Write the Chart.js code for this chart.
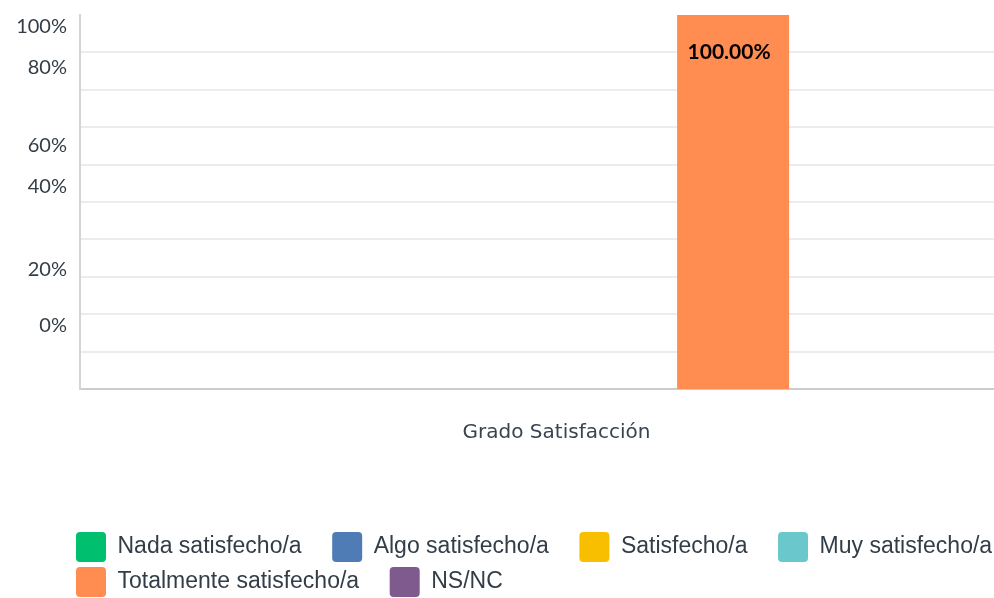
<!DOCTYPE html>
<html>
<head>
<meta charset="utf-8">
<title>Grado Satisfacción</title>
<script src="https://cdn.jsdelivr.net/npm/chart.js@4.4.1/dist/chart.umd.min.js"></script>
<style>
  html, body { margin: 0; padding: 0; background: #fff; overflow: hidden; }
  #wrap { width: 994px; height: 598px; overflow: hidden; }
</style>
</head>
<body>
<div id="wrap"><canvas id="chart" width="1040" height="607"></canvas></div>
<script>
// categories / series
const categories = ['Grado Satisfacción'];
const seriesNames = ['Nada satisfecho/a', 'Algo satisfecho/a', 'Satisfecho/a', 'Muy satisfecho/a', 'Totalmente satisfecho/a', 'NS/NC'];
const seriesValues = [[0], [0], [0], [0], [100], [0]];
const seriesColors = ['#00BF6F', '#507CB6', '#F8BF00', '#6AC8CC', '#FF8C50', '#7E5A8E'];

// y tick labels as printed in the picture (they sit off the gridlines there)
const yTickLabels = ['0%', '20%', '40%', '60%', '80%', '100%'];
const yTickAt = [17, 32, 54, 65, 86, 97];

// value label on top of the bars
const barLabels = {
  id: 'barLabels',
  afterDatasetsDraw(chart) {
    const ctx = chart.ctx;
    ctx.save();
    ctx.font = 'bold 21px Lato';
    ctx.fillStyle = '#000';
    ctx.textAlign = 'center';
    ctx.textBaseline = 'middle';
    chart.data.datasets.forEach((ds, i) => {
      chart.getDatasetMeta(i).data.forEach((bar, j) => {
        const v = ds.data[j];
        if (!v) return;
        ctx.fillText(v.toFixed(2) + '%', bar.x - 4, bar.y + 37);
      });
    });
    ctx.restore();
  }
};

// legend rows start under the plot, not at the canvas edge
const legendShift = {
  id: 'legendShift',
  afterLayout(chart) {
    chart.legend.left += 71;
    chart.legend.right += 71;
  }
};

new Chart(document.getElementById('chart'), {
  type: 'bar',
  data: {
    labels: categories,
    datasets: seriesNames.map((name, i) => ({
      label: name,
      data: seriesValues[i],
      backgroundColor: seriesColors[i],
      borderWidth: 0,
      barPercentage: 0.9,
      categoryPercentage: 0.8
    }))
  },
  options: {
    responsive: false,
    animation: false,
    devicePixelRatio: 1,
    layout: { padding: { left: 0, right: 27, top: 15, bottom: 0 } },
    scales: {
      x: {
        grid: { display: false, drawTicks: false },
        border: { color: '#cccccc', width: 2 },
        ticks: {
          font: { family: 'DejaVu Sans', size: 20 },
          color: '#3a4450',
          padding: 32,
          labelOffset: 10
        },
        afterFit: (scale) => { scale.height = 138; }
      },
      y: {
        min: 0,
        max: 100,
        grid: { display: false, drawTicks: false },
        border: { color: '#d4d4d4', width: 2 },
        ticks: {
          font: { family: 'Lato', size: 20 },
          color: '#333d47',
          padding: 13,
          callback: (v) => yTickLabels[yTickAt.indexOf(v)]
        },
        afterBuildTicks: (scale) => { scale.ticks = yTickAt.map(v => ({ value: v })); },
        afterFit: (scale) => {
          scale.width = 80;
          scale.paddingTop = 0;
          scale.paddingBottom = 0;
        }
      },
      yGrid: {
        position: 'left',
        min: 0,
        max: 100,
        ticks: { display: false, stepSize: 10 },
        border: { display: false },
        grid: {
          drawTicks: false,
          lineWidth: 2,
          color: (c) => (c.tick && c.tick.value > 0 && c.tick.value < 100) ? '#ececec' : 'rgba(0,0,0,0)'
        },
        afterFit: (scale) => { scale.width = 0; }
      }
    },
    plugins: {
      tooltip: { enabled: false },
      legend: {
        position: 'bottom',
        align: 'start',
        labels: {
          boxWidth: 30,
          boxHeight: 30,
          useBorderRadius: true,
          borderRadius: 4,
          padding: 5,
          color: '#333d47',
          font: { family: 'Liberation Sans', size: 23 },
          generateLabels: (chart) =>
            Chart.defaults.plugins.legend.labels.generateLabels(chart).map(l => {
              l.text = l.text + '\u00a0\u00a0\u00a0\u00a0';
              l.lineWidth = 0;
              return l;
            })
        }
      }
    }
  },
  plugins: [barLabels, legendShift]
});
</script>
</body>
</html>
